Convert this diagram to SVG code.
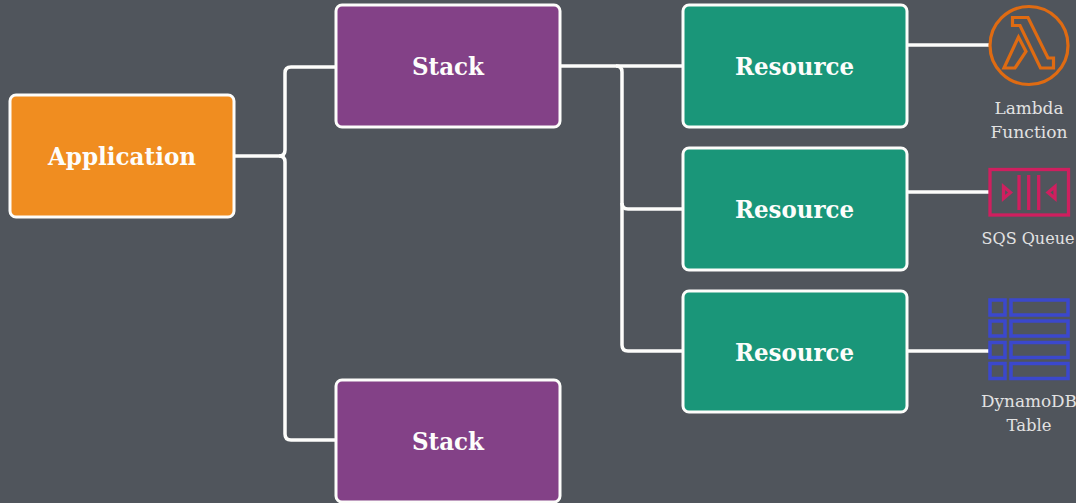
<svg xmlns="http://www.w3.org/2000/svg" width="1076" height="503" viewBox="0 0 1076 503">
<style>
.box{stroke:#fdfdfb;stroke-width:3}
.t{font-family:"DejaVu Serif","Liberation Serif",serif;font-weight:700;font-size:24px;fill:#fdfdfb;text-anchor:middle}
.l{font-family:"DejaVu Serif","Liberation Serif",serif;font-size:16px;fill:#e2e2e2;text-anchor:middle}
.c{fill:none;stroke:#fdfdfb;stroke-width:3.5}
.ic{fill:none}
</style>
<rect width="1076" height="503" fill="#50555c"/>
<g id="connectors">
<path class="c" d="M235 156H279Q285 156 285 150V73Q285 67 291 67H336"/>
<path class="c" d="M279 156Q285 156 285 162V434Q285 440 291 440H336"/>
<path class="c" d="M561 66H683"/>
<path class="c" d="M616 66Q622 66 622 72V203Q622 209 628 209H683"/>
<path class="c" d="M622 203V345Q622 351 628 351H683"/>
<path class="c" d="M907 45H989"/>
<path class="c" d="M907 192H989"/>
<path class="c" d="M907 351H989"/>
</g>
<g id="application"><rect class="box" x="10" y="95" width="224" height="122" rx="6" fill="#f08d20"/><text class="t" x="122" y="165" textLength="148" lengthAdjust="spacingAndGlyphs">Application</text></g>
<g id="stack1"><rect class="box" x="336" y="5" width="224" height="122" rx="6" fill="#834187"/><text class="t" x="448" y="75" textLength="72" lengthAdjust="spacingAndGlyphs">Stack</text></g>
<g id="stack2"><rect class="box" x="336" y="380" width="224" height="122" rx="6" fill="#834187"/><text class="t" x="448" y="450" textLength="72" lengthAdjust="spacingAndGlyphs">Stack</text></g>
<g id="resource1"><rect class="box" x="683" y="5" width="224" height="122" rx="6" fill="#1a9679"/><text class="t" x="794.500" y="75" textLength="119" lengthAdjust="spacingAndGlyphs">Resource</text></g>
<g id="resource2"><rect class="box" x="683" y="148" width="224" height="122" rx="6" fill="#1a9679"/><text class="t" x="794.500" y="218" textLength="119" lengthAdjust="spacingAndGlyphs">Resource</text></g>
<g id="resource3"><rect class="box" x="683" y="291" width="224" height="121" rx="6" fill="#1a9679"/><text class="t" x="794.500" y="361" textLength="119" lengthAdjust="spacingAndGlyphs">Resource</text></g>
<g id="lambda">
<g class="ic" stroke="#df6b12" stroke-width="3.200">
<circle cx="1029" cy="45.500" r="39"/>
<path d="M1012.500 17.500H1028L1048 58H1053.500V68H1040.500L1020 25.500H1012.500Z"/>
<path d="M1004 68H1015L1026 51.500L1018.500 37Z"/>
</g>
<text class="l" x="1029" y="114" textLength="69" lengthAdjust="spacingAndGlyphs">Lambda</text>
<text class="l" x="1029" y="138" textLength="77" lengthAdjust="spacingAndGlyphs">Function</text>
</g>
<g id="sqs">
<g class="ic" stroke="#cf1f5f" stroke-width="3.300">
<rect x="990" y="169.500" width="78.500" height="45.500"/>
<path d="M1019 175V210M1028.700 175V210M1038.700 175V210"/>
<path d="M1003.500 186.500V198.500L1010.500 192.500Z"/>
<path d="M1055 186.500V198.500L1048 192.500Z"/>
</g>
<text class="l" x="1028" y="244" textLength="93" lengthAdjust="spacingAndGlyphs">SQS Queue</text>
</g>
<g id="dynamodb">
<g class="ic" stroke="#3b48cc" stroke-width="3.500">
<rect x="990" y="300" width="15" height="15"/><rect x="1011" y="300" width="57" height="15"/>
<rect x="990" y="321" width="15" height="15"/><rect x="1011" y="321" width="57" height="15"/>
<rect x="990" y="342.500" width="15" height="15"/><rect x="1011" y="342.500" width="57" height="15"/>
<rect x="990" y="363.500" width="15" height="15"/><rect x="1011" y="363.500" width="57" height="15"/>
</g>
<text class="l" x="1029" y="407" textLength="96" lengthAdjust="spacingAndGlyphs">DynamoDB</text>
<text class="l" x="1029" y="431" textLength="45" lengthAdjust="spacingAndGlyphs">Table</text>
</g>
</svg>
